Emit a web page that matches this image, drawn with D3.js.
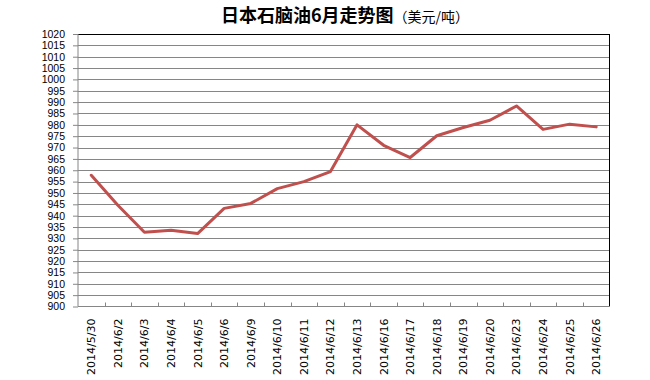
<!DOCTYPE html>
<html><head><meta charset="utf-8">
<script src="https://cdn.jsdelivr.net/npm/d3@7/dist/d3.min.js"></script>
<style>body{margin:0;background:#fff}</style>
</head><body><svg id="c" width="650" height="380"></svg>
<script>
const categories = ["2014/5/30","2014/6/2","2014/6/3","2014/6/4","2014/6/5","2014/6/6","2014/6/9","2014/6/10","2014/6/11","2014/6/12","2014/6/13","2014/6/16","2014/6/17","2014/6/18","2014/6/19","2014/6/20","2014/6/23","2014/6/24","2014/6/25","2014/6/26"];
const prices = [957.8,944.6,932.7,933.6,932.1,943.2,945.4,951.9,955,959.4,980,971,965.6,975.2,978.8,982,988.3,978,980.3,979.1];
const yTicks = d3.range(900, 1021, 5);
const titleMain = "日本石脑油6月走势图";
const titleUnit = "（美元/吨）";

const svg = d3.select("#c");
const m = {l:78, r:609.5, t:34, b:306.5};
const x = d3.scaleBand().domain(categories).range([m.l, m.r]);
const y = d3.scaleLinear().domain([900, 1020]).range([m.b, m.t]);

// gridlines
svg.append("g").selectAll("line").data(yTicks.filter(v=>v>900 && v<1020)).join("line")
  .attr("x1", m.l).attr("x2", m.r).attr("y1", d=>y(d)+0.5).attr("y2", d=>y(d)+0.5)
  .attr("stroke", "#868686").attr("stroke-width", 1).attr("shape-rendering","crispEdges");

// frame top/right black
svg.append("line").attr("x1", m.l).attr("x2", m.r).attr("y1", m.t+0.5).attr("y2", m.t+0.5)
  .attr("stroke","#000").attr("shape-rendering","crispEdges");
svg.append("line").attr("x1", m.r).attr("x2", m.r).attr("y1", m.t).attr("y2", m.b)
  .attr("stroke","#000").attr("shape-rendering","crispEdges");

// y axis
const ya = svg.append("g").attr("transform", `translate(${m.l},0)`)
  .call(d3.axisLeft(y).tickValues(yTicks).tickSize(5).tickPadding(8).tickFormat(d3.format("d")));
ya.select(".domain").attr("stroke","#868686").attr("d", `M0,${m.t}V${m.b}`);
ya.selectAll(".tick line").attr("stroke","#868686");
ya.selectAll("text").attr("font-family","'Liberation Sans', Arial, sans-serif").attr("font-size","10.5px").attr("fill","#000");

// x axis: ticks at band boundaries, pointing up
const bounds = categories.map((c,i)=> x(c)).slice(1);
const xg = svg.append("g");
xg.append("line").attr("x1", m.l).attr("x2", m.r).attr("y1", m.b).attr("y2", m.b)
  .attr("stroke","#868686").attr("shape-rendering","crispEdges");
xg.selectAll("line.t").data(bounds).join("line").attr("class","t")
  .attr("x1", d=>Math.round(d)+0.5).attr("x2", d=>Math.round(d)+0.5).attr("y1", m.b-4).attr("y2", m.b)
  .attr("stroke","#868686");
xg.selectAll("text").data(categories).join("text")
  .attr("transform", d=>`translate(${x(d)+x.bandwidth()/2+4},${m.b+12}) rotate(-90)`)
  .attr("text-anchor","end")
  .attr("font-family","'DejaVu Sans', Verdana, sans-serif").attr("font-size","11px").attr("fill","#000")
  .text(d=>d);

// line
const line = d3.line().x((d,i)=>x(categories[i])+x.bandwidth()/2).y(d=>y(d));
svg.append("path").datum(prices).attr("d", line).attr("fill","none")
  .attr("stroke","#C0504D").attr("stroke-width",3).attr("stroke-linejoin","round").attr("stroke-linecap","round");

// title
const t = svg.append("text").attr("x", 345).attr("y", 22).attr("text-anchor","middle")
  .attr("font-family","'Noto Sans CJK SC', sans-serif").attr("fill","#000");
t.append("tspan").attr("font-size","18px").attr("font-weight","bold").text(titleMain);
t.append("tspan").attr("font-size","14px").text(titleUnit);
</script></body></html>
